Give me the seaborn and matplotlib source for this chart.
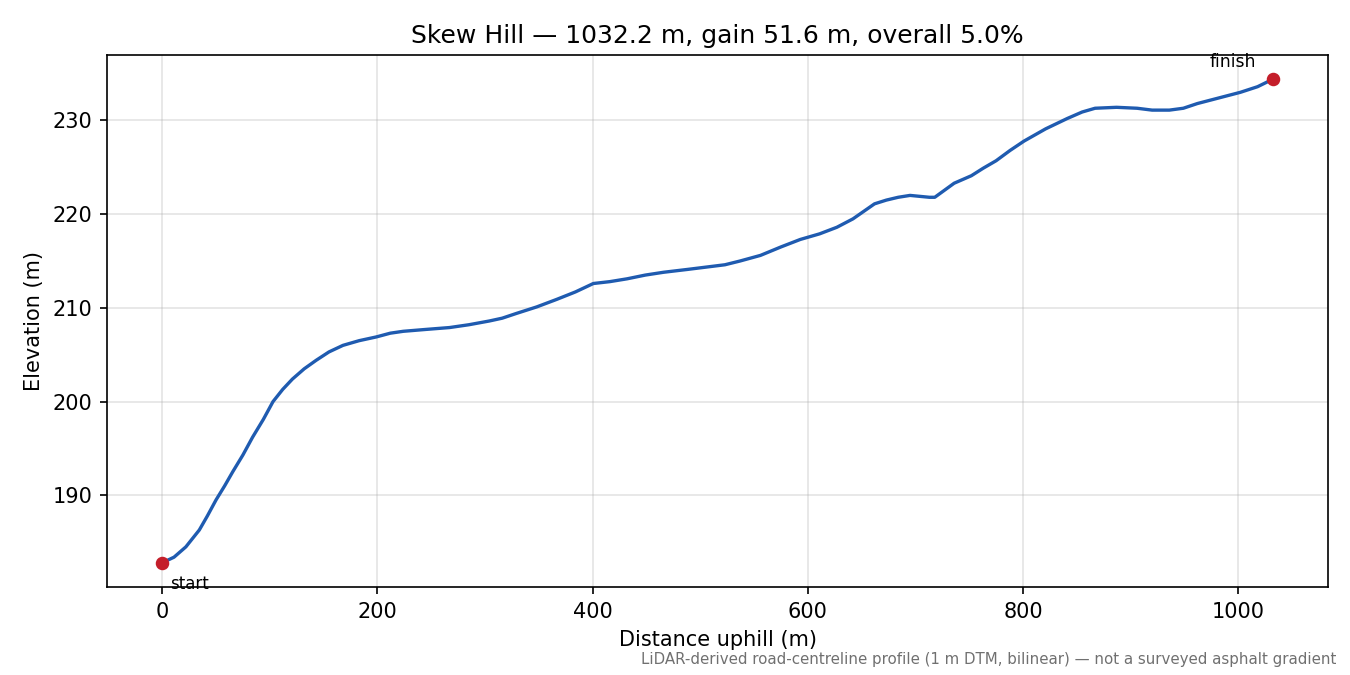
import matplotlib
matplotlib.use("Agg")
import matplotlib.pyplot as plt
import seaborn as sns
import pandas as pd

distance_m = [0, 11, 22, 34.5, 42, 50, 58, 65.5, 75, 84, 94, 103, 112, 121, 132, 143, 155, 168,
              183, 199, 212, 224, 245, 267, 285, 304, 316, 329, 348, 366.5, 384, 400.7, 416,
              432, 449, 466, 488, 509, 523, 537, 556, 575, 593, 611, 627, 642, 652, 662, 673,
              684, 695, 704, 713, 718, 736, 752, 763, 775, 788, 801, 821, 841, 855, 867, 887,
              906, 920, 936, 949, 962, 982, 1002, 1018, 1032.2]
elevation_m = [182.8, 183.4, 184.5, 186.3, 187.8, 189.5, 191.0, 192.5, 194.3, 196.2, 198.1,
               200.0, 201.3, 202.4, 203.5, 204.4, 205.3, 206.0, 206.5, 206.9, 207.3, 207.5,
               207.7, 207.9, 208.2, 208.6, 208.9, 209.4, 210.1, 210.9, 211.7, 212.6, 212.8,
               213.1, 213.5, 213.8, 214.1, 214.4, 214.6, 215.0, 215.6, 216.5, 217.3, 217.9,
               218.6, 219.5, 220.3, 221.1, 221.5, 221.8, 222.0, 221.9, 221.8, 221.8, 223.3,
               224.1, 224.9, 225.7, 226.8, 227.8, 229.1, 230.2, 230.9, 231.3, 231.4, 231.3,
               231.1, 231.1, 231.3, 231.8, 232.4, 233.0, 233.6, 234.4]

title_text = "Skew Hill — 1032.2 m, gain 51.6 m, overall 5.0%"
x_label = "Distance uphill (m)"
y_label = "Elevation (m)"
footnote = "LiDAR-derived road-centreline profile (1 m DTM, bilinear) — not a surveyed asphalt gradient"
start_label = "start"
finish_label = "finish"

df = pd.DataFrame({"distance": distance_m, "elevation": elevation_m})

fig, ax = plt.subplots(figsize=(9, 4.5), dpi=150)
fig.subplots_adjust(left=0.079, right=0.984, top=0.9185, bottom=0.1304)

sns.lineplot(data=df, x="distance", y="elevation", ax=ax, color="#1f5bb0", linewidth=1.6)
ends = df.iloc[[0, -1]]
ax.scatter(ends["distance"], ends["elevation"], color="#c41e2a", s=30, zorder=5)

ax.annotate(start_label, (distance_m[0], elevation_m[0]), xytext=(4, -6),
            textcoords="offset points", ha="left", va="top", fontsize=8)
ax.annotate(finish_label, (distance_m[-1], elevation_m[-1]), xytext=(-8, 4),
            textcoords="offset points", ha="right", va="bottom", fontsize=8.3)

ax.set_xticks([0, 200, 400, 600, 800, 1000])
ax.set_yticks([190, 200, 210, 220, 230])
ax.grid(True, color="#b0b0b0", alpha=0.35, linewidth=0.8)
ax.set_axisbelow(True)
ax.set_title(title_text, fontsize=12)
ax.set_xlabel(x_label, fontsize=10)
ax.set_ylabel(y_label, fontsize=10)

fig.text(0.99, 0.012, footnote, ha="right", va="bottom", fontsize=7.2, color="#707070")

fig.savefig("out.png", dpi=150)
